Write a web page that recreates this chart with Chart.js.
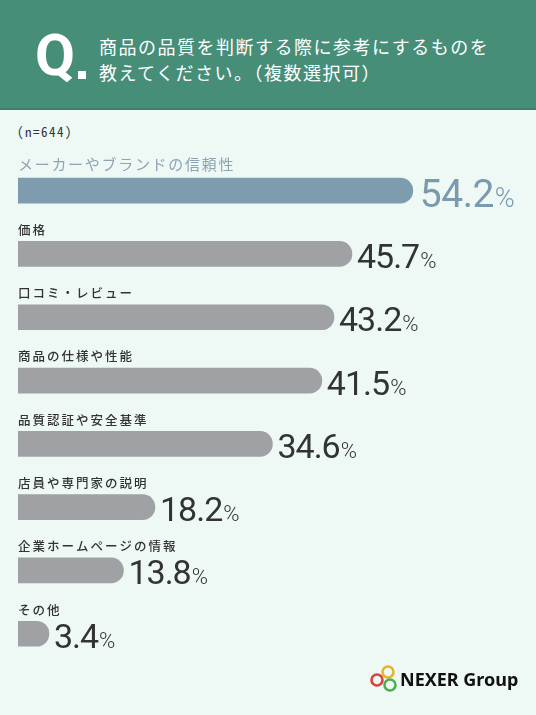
<!DOCTYPE html>
<html lang="ja">
<head>
<meta charset="utf-8">
<script src="https://cdn.jsdelivr.net/npm/chart.js@4.4.1/dist/chart.umd.min.js"></script>
<style>
html, body { margin: 0; padding: 0; }
body {
    width: 536px; height: 715px; position: relative; overflow: hidden;
    background: #eef9f6;
    font-family: "Noto Sans CJK JP", sans-serif;
}
.header {
    position: absolute; left: 0; top: 0; width: 536px; height: 108px;
    background: #478e79; border-bottom: 2px solid #3d7f6b;
}
.q {
    position: absolute; left: 35px; top: 26px;
    font: 700 58px/58px Roboto, sans-serif; color: #fff;
}
.q-dot { position: absolute; left: 78px; top: 71px; width: 8px; height: 8px; background: #fff; }
.question {
    position: absolute; left: 99px; top: 33px;
    font-size: 18px; line-height: 26px; letter-spacing: 1.5px; color: #fff;
}
.n {
    position: absolute; left: 17px; top: 124px;
    font: 13px/16px "Noto Sans Mono CJK JP", "DejaVu Sans Mono", monospace;
    letter-spacing: 1.5px; color: #333;
}
#chart { position: absolute; left: 0; top: 140px; }
.logo { position: absolute; left: 360px; top: 655px; }
</style>
</head>
<body>
<div class="header">
    <div class="q">Q</div>
    <div class="q-dot"></div>
    <div class="question">商品の品質を判断する際に参考にするものを<br>教えてください。（複数選択可）</div>
</div>
<div class="n">(n=644)</div>
<canvas id="chart" width="536" height="540"></canvas>
<svg class="logo" width="176" height="50">
    <circle cx="28" cy="17" r="5.5" fill="none" stroke="#e8b424" stroke-width="2.6"/>
    <circle cx="17" cy="25" r="5.5" fill="none" stroke="#d8433b" stroke-width="2.6"/>
    <circle cx="30" cy="30" r="5.5" fill="none" stroke="#4caf50" stroke-width="2.6"/>
    <text x="40" y="31" font-family="Noto Sans, sans-serif" font-weight="700" font-size="18" fill="#111">NEXER Group</text>
</svg>

<script>
/*** Data ***/
const categories = [
    'メーカーやブランドの信頼性',
    '価格',
    '口コミ・レビュー',
    '商品の仕様や性能',
    '品質認証や安全基準',
    '店員や専門家の説明',
    '企業ホームページの情報',
    'その他'
];
const percents = [54.2, 45.7, 43.2, 41.5, 34.6, 18.2, 13.8, 3.4];

const HIGHLIGHT = '#7e9cae';
const GREY = '#a0a1a5';

/**
 * Draws the category name above each bar and the value after its end
 */
const rowLabels = {
    id: 'rowLabels',
    afterDatasetsDraw(chart) {
        const ctx = chart.ctx;
        const left = chart.chartArea.left;
        chart.getDatasetMeta(0).data.forEach((bar, i) => {
            const first = i === 0;
            ctx.save();
            ctx.textAlign = 'left';

            /*** Category ***/
            ctx.textBaseline = 'middle';
            ctx.font = first ? '400 15px "Noto Sans CJK JP"' : '500 12.5px "Noto Sans CJK JP"';
            ctx.letterSpacing = first ? '1.7px' : '2px';
            ctx.fillStyle = first ? '#8ea4b2' : '#333';
            ctx.fillText(categories[i], left, bar.y - (first ? 26 : 24));

            /*** Value ***/
            ctx.textBaseline = 'alphabetic';
            const num = percents[i].toFixed(1);
            const x = bar.x + (first ? 7 : 5);
            const y = bar.y + (first ? 16 : 14);
            ctx.fillStyle = first ? '#7b9aae' : '#333';
            ctx.font = first ? '400 39px Roboto' : '400 34px Roboto';
            ctx.letterSpacing = first ? '-0.5px' : '-1px';
            ctx.fillText(num, x, y);
            const w = ctx.measureText(num).width;
            ctx.font = first ? '300 27px Roboto' : '300 22px Roboto';
            ctx.letterSpacing = '0px';
            ctx.fillText('%', x + w + 1, y);
            ctx.restore();
        });
    }
};

/*** Create graph ***/
const ctx = document.getElementById('chart').getContext('2d');
const chart = new Chart(ctx, {
    type: 'bar',
    data: {
        labels: categories,
        datasets: [{
            data: percents,
            backgroundColor: percents.map((v, i) => i === 0 ? HIGHLIGHT : GREY),
            borderRadius: 13,
            borderSkipped: 'start',
            barThickness: 25,
            base: -0.92
        }]
    },
    options: {
        indexAxis: 'y',
        responsive: false,
        animation: false,
        layout: { padding: { top: 19, bottom: 14.6, left: 18, right: 0 } },
        scales: {
            x: { display: false, min: -0.92, max: 71.4 },
            y: { display: false }
        },
        plugins: {
            legend: { display: false },
            tooltip: { enabled: false }
        }
    },
    plugins: [rowLabels]
});
</script>
</body>
</html>
